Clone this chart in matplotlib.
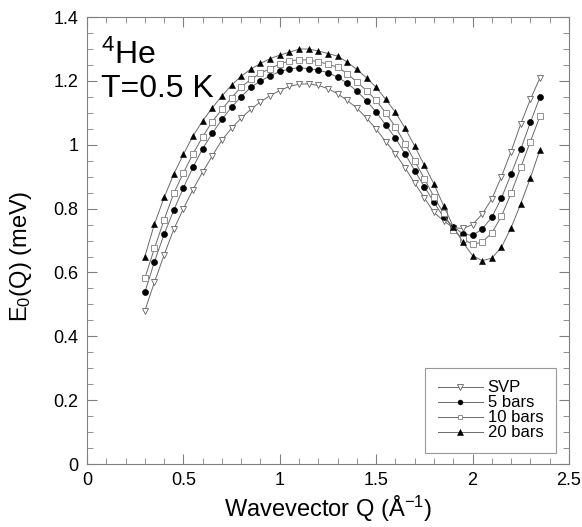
import matplotlib
matplotlib.use("Agg")
import matplotlib.pyplot as plt
from matplotlib.ticker import MultipleLocator

plt.rcParams['font.family'] = ['Liberation Sans', 'DejaVu Sans']
plt.rcParams['mathtext.fontset'] = 'custom'
plt.rcParams['mathtext.rm'] = 'Liberation Sans'
plt.rcParams['mathtext.it'] = 'Liberation Sans:italic'

# Wavevector grid (1/Angstrom)
q = [0.30, 0.35, 0.40, 0.45, 0.50, 0.55, 0.60, 0.65, 0.70, 0.75,
     0.80, 0.85, 0.90, 0.95, 1.00, 1.05, 1.10, 1.15, 1.20, 1.25,
     1.30, 1.35, 1.40, 1.45, 1.50, 1.55, 1.60, 1.65, 1.70, 1.75,
     1.80, 1.85, 1.90, 1.95, 2.00, 2.05, 2.10, 2.15, 2.20, 2.25,
     2.30, 2.35]

# E0(Q) in meV for each pressure
e_svp = [0.480, 0.570, 0.655, 0.735, 0.800, 0.860, 0.915, 0.965, 1.015, 1.052,
         1.084, 1.111, 1.135, 1.154, 1.170, 1.183, 1.190, 1.191, 1.186, 1.176,
         1.160, 1.139, 1.115, 1.084, 1.049, 1.010, 0.972, 0.928, 0.880, 0.834,
         0.788, 0.762, 0.740, 0.738, 0.750, 0.783, 0.830, 0.900, 0.979, 1.065,
         1.142, 1.210]
e_5bar = [0.538, 0.634, 0.720, 0.795, 0.865, 0.930, 0.988, 1.036, 1.080, 1.118,
          1.151, 1.180, 1.200, 1.216, 1.230, 1.237, 1.242, 1.238, 1.234, 1.226,
          1.212, 1.193, 1.168, 1.138, 1.103, 1.062, 1.021, 0.972, 0.919, 0.869,
          0.820, 0.773, 0.744, 0.721, 0.716, 0.736, 0.773, 0.833, 0.908, 0.986,
          1.070, 1.150]
e_10bar = [0.582, 0.676, 0.765, 0.848, 0.912, 0.972, 1.025, 1.073, 1.111, 1.148,
           1.181, 1.205, 1.224, 1.239, 1.253, 1.263, 1.266, 1.266, 1.260, 1.253,
           1.243, 1.223, 1.197, 1.170, 1.139, 1.100, 1.056, 1.004, 0.949, 0.894,
           0.837, 0.785, 0.733, 0.705, 0.688, 0.695, 0.724, 0.776, 0.848, 0.929,
           1.010, 1.090]
e_20bar = [0.650, 0.752, 0.835, 0.908, 0.970, 1.028, 1.075, 1.116, 1.153, 1.187,
           1.215, 1.237, 1.255, 1.270, 1.281, 1.290, 1.300, 1.300, 1.294, 1.286,
           1.278, 1.259, 1.236, 1.210, 1.180, 1.142, 1.102, 1.052, 0.996, 0.936,
           0.877, 0.809, 0.744, 0.695, 0.653, 0.637, 0.645, 0.679, 0.740, 0.815,
           0.896, 0.985]

labels = ["SVP", "5 bars", "10 bars", "20 bars"]

fig = plt.figure(figsize=(5.82, 5.27), dpi=100)
ax = fig.add_axes([0.1495, 0.1195, 0.828, 0.848])

line_col = "#6a6a6a"
ax.plot(q, e_svp, color=line_col, lw=0.7, marker="v", ms=4.6,
        mfc="white", mec="#606060", mew=0.6, label=labels[0])
ax.plot(q, e_5bar, color=line_col, lw=0.7, marker="o", ms=4.4,
        mfc="black", mec="black", mew=0.4, label=labels[1])
ax.plot(q, e_10bar, color=line_col, lw=0.7, marker="s", ms=4.3,
        mfc="white", mec="#808080", mew=0.6, label=labels[2])
ax.plot(q, e_20bar, color=line_col, lw=0.7, marker="^", ms=4.6,
        mfc="black", mec="black", mew=0.4, label=labels[3])

ax.set_xlim(0, 2.5)
ax.set_ylim(0, 1.4)
ax.xaxis.set_minor_locator(MultipleLocator(0.1))
ax.yaxis.set_minor_locator(MultipleLocator(0.05))
ax.set_yticks([0, 0.2, 0.4, 0.6, 0.8, 1.0, 1.2, 1.4])
ax.set_yticklabels(["0", "0.2", "0.4", "0.6", "0.8", "1", "1.2", "1.4"])
ax.set_xticks([0, 0.5, 1.0, 1.5, 2.0, 2.5])
ax.set_xticklabels(["0", "0.5", "1", "1.5", "2", "2.5"])

ax.tick_params(which="both", direction="in", top=True, right=True,
               colors="#808080", labelcolor="black", labelsize=13)
ax.tick_params(which="major", length=7, width=0.8, pad=6)
ax.tick_params(which="minor", length=4, width=0.6)
for s in ax.spines.values():
    s.set_color("#808080")
    s.set_linewidth(0.8)

ax.set_xlabel("Wavevector Q (Å$^{-1}$)", fontsize=17, labelpad=3)
ax.set_ylabel("E$_0$(Q) (meV)", fontsize=17, labelpad=5)
ax.yaxis.set_label_coords(-0.11, 0.465)

ax.text(0.028, 0.895, "$^{4}$He", transform=ax.transAxes, fontsize=23,
        va="baseline", ha="left")
ax.text(0.028, 0.822, "T=0.5 K", transform=ax.transAxes, fontsize=23,
        va="baseline", ha="left")

leg = ax.legend(loc="lower right", bbox_to_anchor=(0.973, 0.025),
                fontsize=12, frameon=True, fancybox=False, markerscale=0.8,
                handlelength=2.7, handletextpad=0.3, borderpad=0.75,
                labelspacing=0.0, borderaxespad=0)
leg.get_frame().set_edgecolor("#808080")
leg.get_frame().set_linewidth(0.8)

fig.savefig("out.png", dpi=100)
